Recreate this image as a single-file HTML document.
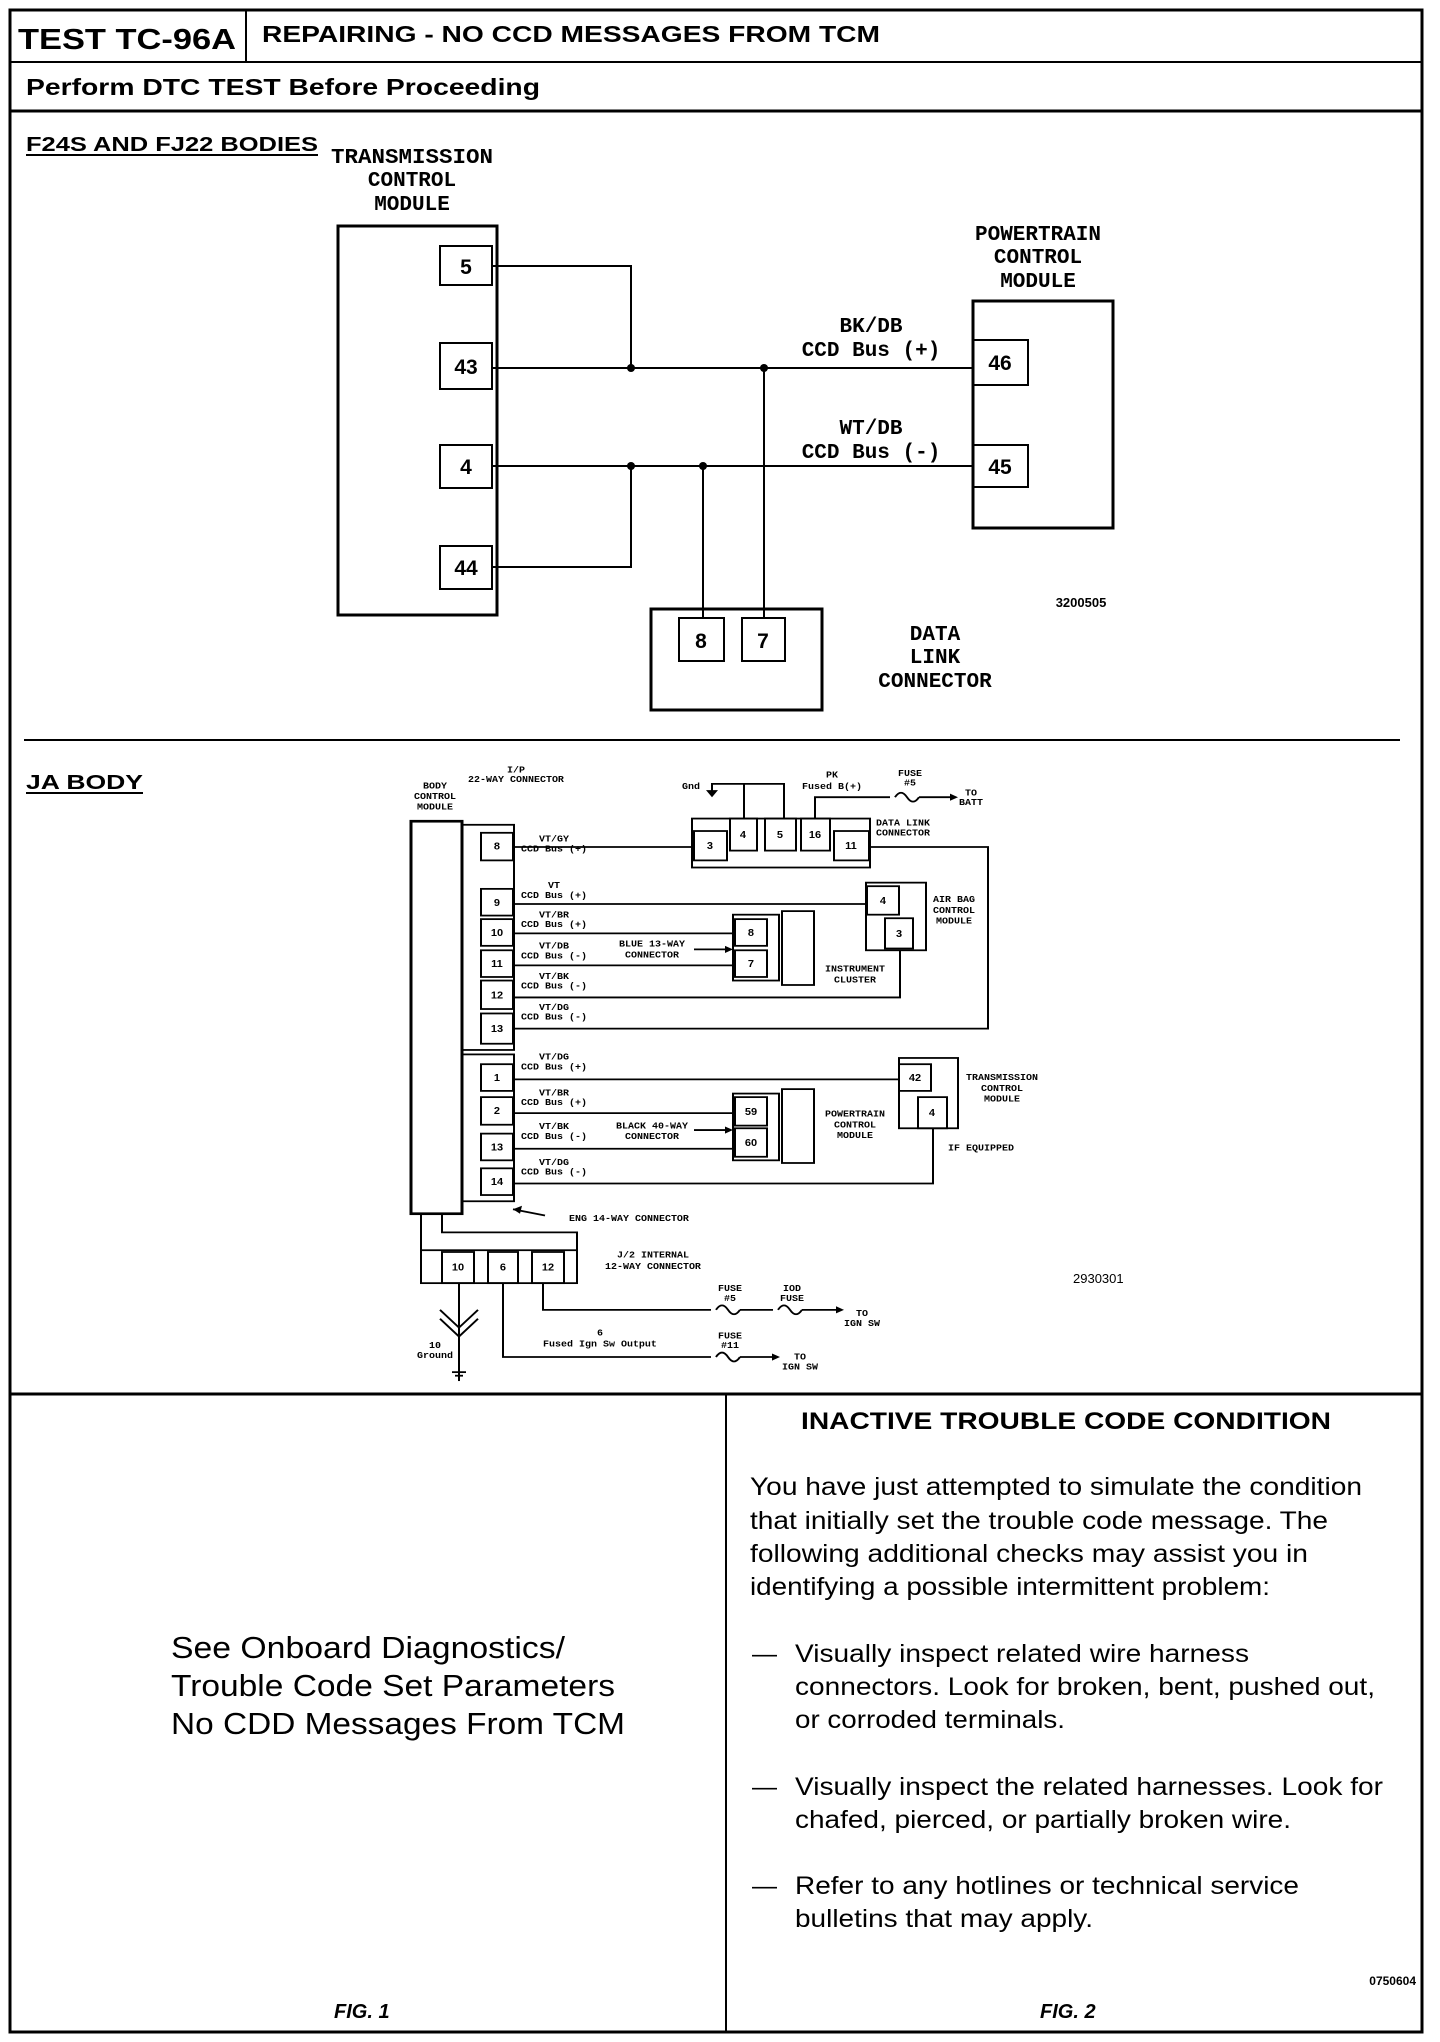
<!DOCTYPE html>
<html><head><meta charset="utf-8"><style>
html,body{margin:0;padding:0;background:#fff}
svg{display:block}
.h{font-family:"Liberation Sans",sans-serif;font-weight:bold}
.m{font-family:"Liberation Mono",monospace;font-weight:bold}
.s{font-family:"Liberation Sans",sans-serif}
</style></head><body>
<svg width="1440" height="2042" viewBox="0 0 1440 2042" xmlns="http://www.w3.org/2000/svg" fill="none" stroke="#000" stroke-width="2">
<!-- frame -->
<rect x="10" y="10" width="1412" height="2022" stroke-width="3"/>
<rect x="10" y="10" width="236" height="52" stroke-width="2"/>
<line x1="10" y1="62" x2="1422" y2="62" stroke-width="2"/>
<line x1="10" y1="111" x2="1422" y2="111" stroke-width="3"/>
<line x1="24" y1="740" x2="1400" y2="740" stroke-width="2"/>
<line x1="10" y1="1394" x2="1422" y2="1394" stroke-width="3"/>
<line x1="726" y1="1394" x2="726" y2="2032" stroke-width="2"/>
<g fill="#000" stroke="none">
<text class="h" x="18" y="49" font-size="29" textLength="218" lengthAdjust="spacingAndGlyphs">TEST TC-96A</text>
<text class="h" x="262" y="42" font-size="23" textLength="618" lengthAdjust="spacingAndGlyphs">REPAIRING - NO CCD MESSAGES FROM TCM</text>
<text class="h" x="26" y="95" font-size="23" textLength="514" lengthAdjust="spacingAndGlyphs">Perform DTC TEST Before Proceeding</text>
<text class="h" x="26" y="151" font-size="20" textLength="292" lengthAdjust="spacingAndGlyphs">F24S AND FJ22 BODIES</text>
<text class="h" x="26" y="789" font-size="20" textLength="117" lengthAdjust="spacingAndGlyphs">JA BODY</text>
</g>
<line x1="26" y1="155" x2="318" y2="155"/>
<line x1="26" y1="793" x2="143" y2="793"/>

<!-- F24S diagram -->
<g fill="#000" stroke="none" class="m" font-size="21" text-anchor="middle">
<text x="412" y="163" textLength="162" lengthAdjust="spacingAndGlyphs">TRANSMISSION</text>
<text x="412" y="186">CONTROL</text>
<text x="412" y="210">MODULE</text>
<text x="1038" y="240">POWERTRAIN</text>
<text x="1038" y="263">CONTROL</text>
<text x="1038" y="287">MODULE</text>
<text x="871" y="332">BK/DB</text>
<text x="871" y="356">CCD Bus (+)</text>
<text x="871" y="434">WT/DB</text>
<text x="871" y="458">CCD Bus (-)</text>
<text x="935" y="640">DATA</text>
<text x="935" y="663">LINK</text>
<text x="935" y="687">CONNECTOR</text>
</g>
<rect x="338" y="226" width="159" height="389" stroke-width="3"/>
<rect x="440" y="246" width="52" height="39"/>
<rect x="440" y="343" width="52" height="46"/>
<rect x="440" y="445" width="52" height="43"/>
<rect x="440" y="546" width="52" height="43"/>
<rect x="973" y="301" width="140" height="227" stroke-width="3"/>
<rect x="973" y="340" width="55" height="45"/>
<rect x="973" y="445" width="55" height="42"/>
<rect x="651" y="609" width="171" height="101" stroke-width="3"/>
<rect x="679" y="618" width="45" height="43"/>
<rect x="742" y="618" width="43" height="43"/>
<g fill="#000" stroke="none" class="h" font-size="21" text-anchor="middle">
<text x="466" y="274">5</text><text x="466" y="374">43</text><text x="466" y="474">4</text><text x="466" y="575">44</text>
<text x="1000" y="370">46</text><text x="1000" y="474">45</text>
<text x="701" y="648">8</text><text x="763" y="648">7</text>
<text class="s" x="1081" y="607" font-size="13">3200505</text>
</g>
<polyline points="492,266 631,266 631,368"/>
<line x1="492" y1="368" x2="973" y2="368"/>
<line x1="492" y1="466" x2="973" y2="466"/>
<polyline points="492,567 631,567 631,466"/>
<line x1="764" y1="368" x2="764" y2="618"/>
<line x1="703" y1="466" x2="703" y2="618"/>
<g fill="#000" stroke="none"><circle cx="631" cy="368" r="4"/><circle cx="764" cy="368" r="4"/><circle cx="631" cy="466" r="4"/><circle cx="703" cy="466" r="4"/></g>

<!-- JA diagram -->
<g transform="translate(0,85.2) scale(1,0.89)">
<g stroke-width="2">
<rect x="411" y="827" width="51" height="441" stroke-width="3"/>
<rect x="462" y="831" width="52" height="253"/>
<rect x="462" y="1089" width="52" height="165"/>
<rect x="481" y="840" width="32" height="31"/><rect x="481" y="903" width="32" height="30"/>
<rect x="481" y="937" width="32" height="30"/><rect x="481" y="972" width="32" height="30"/>
<rect x="481" y="1006" width="32" height="32"/><rect x="481" y="1043" width="32" height="34"/>
<rect x="481" y="1100" width="32" height="30"/><rect x="481" y="1137" width="32" height="31"/>
<rect x="481" y="1178" width="32" height="30"/><rect x="481" y="1217" width="32" height="30"/>
<!-- DLC -->
<rect x="692" y="824" width="178" height="55"/>
<rect x="694" y="838" width="33" height="33"/><rect x="730" y="824" width="27" height="36"/>
<rect x="765" y="824" width="31" height="36"/><rect x="801" y="824" width="29" height="36"/>
<rect x="834" y="838" width="35" height="33"/>
<polyline points="744,824 744,785 784,785 784,824"/>
<polyline points="744,785 712,785 712,795"/>
<polyline points="815,824 815,800 890,800"/>
<path d="M895,800 q6,-10 12,0 t12,0"/><line x1="919" y1="800" x2="950" y2="800"/>
<!-- airbag -->
<rect x="866" y="896" width="60" height="76"/>
<rect x="867" y="900" width="32" height="32"/><rect x="885" y="936" width="28" height="34"/>
<!-- cluster -->
<rect x="733" y="932" width="46" height="74"/><rect x="735" y="937" width="32" height="30"/><rect x="735" y="972" width="32" height="30"/>
<rect x="782" y="928" width="32" height="83"/>
<!-- TCM small -->
<rect x="899" y="1093" width="59" height="79"/>
<rect x="899" y="1100" width="32" height="30"/><rect x="918" y="1137" width="29" height="35"/>
<!-- PCM -->
<rect x="733" y="1133" width="46" height="75"/><rect x="735" y="1137" width="32" height="32"/><rect x="735" y="1172" width="32" height="32"/>
<rect x="782" y="1128" width="32" height="83"/>
<!-- wires -->
<line x1="513" y1="856" x2="694" y2="856"/>
<line x1="513" y1="920" x2="866" y2="920"/>
<line x1="513" y1="953" x2="735" y2="953"/>
<line x1="513" y1="989" x2="735" y2="989"/>
<polyline points="513,1025 900,1025 900,972"/>
<polyline points="513,1060 988,1060 988,856 869,856"/>
<line x1="513" y1="1117" x2="899" y2="1117"/>
<line x1="513" y1="1155" x2="735" y2="1155"/>
<line x1="513" y1="1195" x2="735" y2="1195"/>
<polyline points="513,1234 933,1234 933,1172"/>
<line x1="694" y1="971" x2="730" y2="971"/><line x1="694" y1="1174" x2="730" y2="1174"/>
<line x1="513" y1="1263" x2="545" y2="1270"/>
<!-- J/2 -->
<rect x="421" y="1309" width="156" height="37"/>
<rect x="442" y="1311" width="32" height="35"/><rect x="488" y="1311" width="30" height="35"/><rect x="532" y="1311" width="32" height="35"/>
<line x1="421" y1="1268" x2="421" y2="1309"/>
<polyline points="442,1268 442,1289 577,1289 577,1309"/>
<line x1="459" y1="1346" x2="459" y2="1456"/>
<polyline points="440,1376 459,1396 478,1376"/><polyline points="440,1386 459,1406 478,1386"/>
<line x1="452" y1="1446" x2="466" y2="1446"/><line x1="455" y1="1450" x2="463" y2="1450"/>
<polyline points="543,1346 543,1376 711,1376"/>
<path d="M716,1376 q6,-10 12,0 t12,0"/><line x1="740" y1="1376" x2="773" y2="1376"/>
<path d="M778,1376 q6,-10 12,0 t12,0"/><line x1="802" y1="1376" x2="836" y2="1376"/>
<polyline points="503,1346 503,1429 711,1429"/>
<path d="M716,1429 q6,-10 12,0 t12,0"/><line x1="740" y1="1429" x2="772" y2="1429"/>
</g>
<g fill="#000" stroke="none">
<polygon points="706,792 718,792 712,800"/><polygon points="950,796 958,800 950,804"/>
<polygon points="725,967 733,971 725,975"/><polygon points="725,1170 733,1174 725,1178"/>
<polygon points="836,1372 844,1376 836,1380"/><polygon points="772,1425 780,1429 772,1433"/>
<polygon points="513,1263 522,1259 520,1268"/>
</g>
<g fill="#000" stroke="none" class="m" font-size="10" text-anchor="middle">
<text x="435" y="790">BODY</text><text x="435" y="802">CONTROL</text><text x="435" y="814">MODULE</text>
<text x="516" y="772">I/P</text><text x="516" y="783">22-WAY CONNECTOR</text>
<text x="691" y="791">Gnd</text>
<text x="832" y="778">PK</text><text x="832" y="791">Fused B(+)</text>
<text x="910" y="776">FUSE</text><text x="910" y="787">#5</text>
<text x="971" y="798">TO</text><text x="971" y="809">BATT</text>
<text x="903" y="832">DATA LINK</text><text x="903" y="843">CONNECTOR</text>
<text x="554" y="850">VT/GY</text><text x="554" y="861">CCD Bus (+)</text>
<text x="554" y="902">VT</text><text x="554" y="913">CCD Bus (+)</text>
<text x="554" y="935">VT/BR</text><text x="554" y="946">CCD Bus (+)</text>
<text x="554" y="970">VT/DB</text><text x="554" y="981">CCD Bus (-)</text>
<text x="554" y="1004">VT/BK</text><text x="554" y="1015">CCD Bus (-)</text>
<text x="554" y="1039">VT/DG</text><text x="554" y="1050">CCD Bus (-)</text>
<text x="554" y="1095">VT/DG</text><text x="554" y="1106">CCD Bus (+)</text>
<text x="554" y="1135">VT/BR</text><text x="554" y="1146">CCD Bus (+)</text>
<text x="554" y="1173">VT/BK</text><text x="554" y="1184">CCD Bus (-)</text>
<text x="554" y="1213">VT/DG</text><text x="554" y="1224">CCD Bus (-)</text>
<text x="652" y="968">BLUE 13-WAY</text><text x="652" y="980">CONNECTOR</text>
<text x="652" y="1172">BLACK 40-WAY</text><text x="652" y="1184">CONNECTOR</text>
<text x="954" y="918">AIR BAG</text><text x="954" y="930">CONTROL</text><text x="954" y="942">MODULE</text>
<text x="855" y="996">INSTRUMENT</text><text x="855" y="1008">CLUSTER</text>
<text x="855" y="1159">POWERTRAIN</text><text x="855" y="1171">CONTROL</text><text x="855" y="1183">MODULE</text>
<text x="1002" y="1118">TRANSMISSION</text><text x="1002" y="1130">CONTROL</text><text x="1002" y="1142">MODULE</text>
<text x="981" y="1197">IF EQUIPPED</text>
<text x="629" y="1276">ENG 14-WAY CONNECTOR</text>
<text x="653" y="1317">J/2 INTERNAL</text><text x="653" y="1330">12-WAY CONNECTOR</text>
<text x="730" y="1355">FUSE</text><text x="730" y="1366">#5</text>
<text x="792" y="1355">IOD</text><text x="792" y="1366">FUSE</text>
<text x="862" y="1383">TO</text><text x="862" y="1394">IGN SW</text>
<text x="600" y="1405">6</text><text x="600" y="1417">Fused Ign Sw Output</text>
<text x="730" y="1408">FUSE</text><text x="730" y="1419">#11</text>
<text x="800" y="1432">TO</text><text x="800" y="1443">IGN SW</text>
<text x="435" y="1419">10</text><text x="435" y="1430">Ground</text>
</g>
<g fill="#000" stroke="none" class="h" font-size="11" text-anchor="middle">
<text x="497" y="859">8</text><text x="497" y="922">9</text><text x="497" y="956">10</text><text x="497" y="991">11</text>
<text x="497" y="1026">12</text><text x="497" y="1064">13</text><text x="497" y="1119">1</text><text x="497" y="1156">2</text>
<text x="497" y="1197">13</text><text x="497" y="1236">14</text>
<text x="710" y="858">3</text><text x="743" y="846">4</text><text x="780" y="846">5</text><text x="815" y="846">16</text><text x="851" y="858">11</text>
<text x="883" y="920">4</text><text x="899" y="957">3</text>
<text x="751" y="956">8</text><text x="751" y="991">7</text>
<text x="915" y="1119">42</text><text x="932" y="1158">4</text>
<text x="751" y="1157">59</text><text x="751" y="1192">60</text>
<text x="458" y="1332">10</text><text x="503" y="1332">6</text><text x="548" y="1332">12</text>
</g>
</g>
<text class="s" x="1073" y="1283" font-size="13" fill="#000" stroke="none">2930301</text>

<!-- bottom -->
<g fill="#000" stroke="none">
<g class="s" font-size="31">
<text x="171" y="1658" textLength="394" lengthAdjust="spacingAndGlyphs">See Onboard Diagnostics/</text>
<text x="171" y="1696" textLength="444" lengthAdjust="spacingAndGlyphs">Trouble Code Set Parameters</text>
<text x="171" y="1734" textLength="454" lengthAdjust="spacingAndGlyphs">No CDD Messages From TCM</text>
</g>
<text class="h" x="334" y="2018" font-size="20" font-style="italic">FIG. 1</text>
<text class="h" x="1040" y="2018" font-size="20" font-style="italic">FIG. 2</text>
<text class="h" x="1066" y="1429" font-size="24" text-anchor="middle" textLength="530" lengthAdjust="spacingAndGlyphs">INACTIVE TROUBLE CODE CONDITION</text>
<g class="s" font-size="25">
<text x="750" y="1495" textLength="612" lengthAdjust="spacingAndGlyphs">You have just attempted to simulate the condition</text>
<text x="750" y="1529" textLength="578" lengthAdjust="spacingAndGlyphs">that initially set the trouble code message. The</text>
<text x="750" y="1562" textLength="558" lengthAdjust="spacingAndGlyphs">following additional checks may assist you in</text>
<text x="750" y="1595" textLength="520" lengthAdjust="spacingAndGlyphs">identifying a possible intermittent problem:</text>
<text x="752" y="1662">—</text>
<text x="795" y="1662" textLength="454" lengthAdjust="spacingAndGlyphs">Visually inspect related wire harness</text>
<text x="795" y="1695" textLength="580" lengthAdjust="spacingAndGlyphs">connectors. Look for broken, bent, pushed out,</text>
<text x="795" y="1728" textLength="270" lengthAdjust="spacingAndGlyphs">or corroded terminals.</text>
<text x="752" y="1795">—</text>
<text x="795" y="1795" textLength="588" lengthAdjust="spacingAndGlyphs">Visually inspect the related harnesses. Look for</text>
<text x="795" y="1828" textLength="496" lengthAdjust="spacingAndGlyphs">chafed, pierced, or partially broken wire.</text>
<text x="752" y="1894">—</text>
<text x="795" y="1894" textLength="504" lengthAdjust="spacingAndGlyphs">Refer to any hotlines or technical service</text>
<text x="795" y="1927" textLength="298" lengthAdjust="spacingAndGlyphs">bulletins that may apply.</text>
</g>
<text class="h" x="1416" y="1985" font-size="12" text-anchor="end">0750604</text>
</g>
</svg>
</body></html>
